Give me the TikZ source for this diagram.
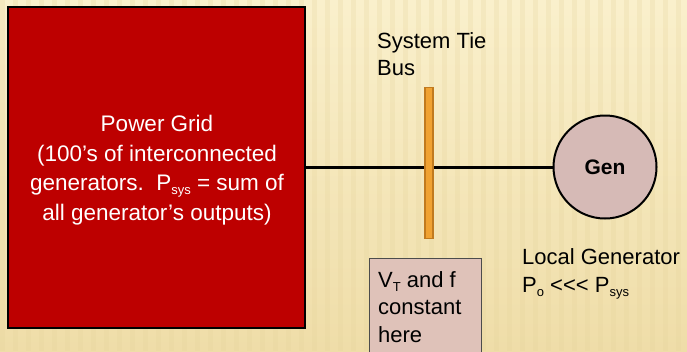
\documentclass[tikz,border=0pt]{standalone}
\usepackage{fontspec}
\setmainfont{Liberation Sans}
\definecolor{bgtop}{HTML}{FAF0CC}
\definecolor{bgbot}{HTML}{EFDDA8}
\definecolor{stripe}{HTML}{E6D49C}
\definecolor{gridred}{HTML}{BD0000}
\definecolor{genfill}{HTML}{D6BAB6}
\definecolor{notefill}{HTML}{DFC2B9}
\definecolor{busfill}{HTML}{F0A232}
\definecolor{busdraw}{HTML}{C17A1E}
\newcommand\lowtxt[1]{\raisebox{-4pt}{\fontsize{13}{13}\selectfont #1}}
\tikzset{
  gridbox/.style={draw=black, line width=2pt, fill=gridred, text=white, align=center,
    minimum width=297pt, minimum height=321pt, inner sep=0pt, font=\fontsize{22.5}{29.5}\selectfont},
  genball/.style={circle, draw=black, line width=2pt, fill=genfill, minimum size=103pt,
    inner sep=0pt, font=\fontsize{21}{24}\selectfont\bfseries},
  busbar/.style={draw=busdraw, line width=1.2pt, fill=busfill, minimum width=8pt,
    minimum height=151pt, inner sep=0pt},
  notebox/.style={draw=black!70, line width=0.8pt, fill=notefill, minimum width=112pt,
    minimum height=110pt, inner sep=0pt},
  label/.style={inner sep=0pt, align=left, font=\fontsize{22}{27.5}\selectfont},
  wire/.style={line width=3pt, black}
}
\begin{document}
\begin{tikzpicture}[x=1pt,y=-1pt]
\useasboundingbox (0,0) rectangle (687,351);
\shade[top color=bgtop, bottom color=bgbot] (0,0) rectangle (687,351);
\foreach \x in {0,13,...,686} \fill[stripe, opacity=0.25] (\x,0) rectangle (\x+5,351);
\node[gridbox] (grid) at (156.5,167) {};
\node[inner sep=0pt, text=white, align=center, font=\fontsize{22.5}{29.5}\selectfont] (gridtext) at (157,170)
  {Power Grid\\(100’s of interconnected\\generators.\ \ P\lowtxt{sys} = sum of\\all generator’s outputs)};
\node[genball] (gen) at (605,167) {Gen};
\draw[wire] (grid.east) -- (gen.west);
\node[busbar] (bus) at (429,163) {};
\node[label, anchor=west] (tie) at (377,54) {System Tie\\Bus};
\node[notebox, anchor=north west] (note) at (369,258) {};
\node[label, anchor=north west] (notetext) at (378,271) {V\lowtxt{T} and f\\constant\\here};
\node[label, anchor=west] (local) at (522,274) {Local Generator\\P\lowtxt{o} <{}<{}< P\lowtxt{sys}};
\end{tikzpicture}
\end{document}
